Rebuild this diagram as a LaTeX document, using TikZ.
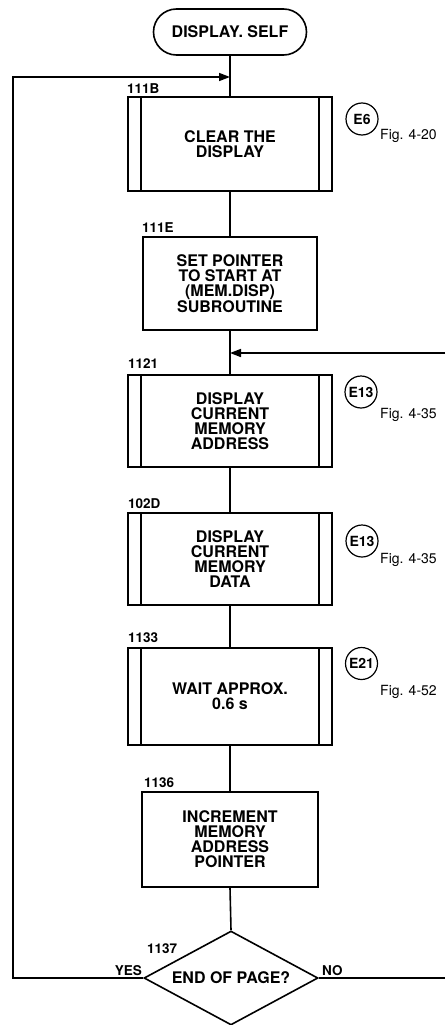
\documentclass[tikz,border=0pt]{standalone}
\usepackage{fontspec}
\setmainfont{TeX Gyre Heros}
\usetikzlibrary{shapes.geometric,arrows.meta}
\begin{document}
\begin{tikzpicture}[x=1pt,y=-1pt,
  line/.style={line width=1.6pt},
  procbox/.style={draw, line width=1.6pt, align=center, font=\fontsize{16}{15}\selectfont\bfseries, inner sep=0pt},
  addr/.style={font=\fontsize{13.5}{13}\selectfont\bfseries, anchor=base west, inner sep=0pt},
  refc/.style={draw, circle, line width=1.2pt, minimum size=32pt, inner sep=0pt, font=\fontsize{14}{14}\selectfont\bfseries},
  figref/.style={font=\fontsize{14}{14}\selectfont, anchor=base west, inner sep=0pt},
  tip/.style={-{Triangle[length=11pt,width=8pt]}}
]
\useasboundingbox (0,0) rectangle (445,1025);

% start terminal
\node[procbox, rounded corners=23pt, minimum width=153pt, minimum height=46pt] (start) at (230,32) {DISPLAY. SELF};

% boxes
\node[procbox, minimum width=204pt, minimum height=94pt] (b1) at (230,144) {CLEAR THE\\DISPLAY};
\node[procbox, minimum width=174pt, minimum height=93pt] (b2) at (230,283.5) {SET POINTER\\TO START AT\\(MEM.DISP)\\SUBROUTINE};
\node[procbox, minimum width=204pt, minimum height=92pt] (b3) at (230,421) {DISPLAY\\CURRENT\\MEMORY\\ADDRESS};
\node[procbox, minimum width=204pt, minimum height=92pt] (b4) at (230,559) {DISPLAY\\CURRENT\\MEMORY\\DATA};
\node[procbox, minimum width=204pt, minimum height=97pt] (b5) at (230,696.5) {WAIT APPROX.\\0.6 s};
\node[procbox, minimum width=176pt, minimum height=95pt] (b6) at (230,839.5) {INCREMENT\\MEMORY\\ADDRESS\\POINTER};
\node[procbox, diamond, aspect=1.84, minimum width=174pt, minimum height=94pt] (dec) at (231,978) {END OF PAGE?};

% predefined-process side lines
\foreach \b in {b1,b3,b4,b5} {
  \draw[line] ([xshift=14pt]\b.north west) -- ([xshift=14pt]\b.south west);
  \draw[line] ([xshift=-14pt]\b.north east) -- ([xshift=-14pt]\b.south east);
}

% address labels
\node[addr] (l1) at (127,93) {111B};
\node[addr] (l2) at (142,232) {111E};
\node[addr] (l3) at (128,368) {1121};
\node[addr] (l4) at (128,508) {102D};
\node[addr] (l5) at (128,642) {1133};
\node[addr] (l6) at (144,787) {1136};
\node[addr] (l7) at (147,953) {1137};

% references
\node[refc] (c1) at (362,119) {E6};
\node[figref] (f1) at (380,139) {Fig. 4-20};
\node[refc] (c3) at (361,392) {E13};
\node[figref] (f3) at (380,418) {Fig. 4-35};
\node[refc] (c4) at (362,541) {E13};
\node[figref] (f4) at (380,563) {Fig. 4-35};
\node[refc] (c5) at (361.5,663.5) {E21};
\node[figref] (f5) at (380,695) {Fig. 4-52};

% connectors
\coordinate (j1) at (230,77);
\coordinate (j2) at (230,353);
\coordinate (cl) at (13,0);
\coordinate (rb) at (445,978);
\coordinate (rt) at (445,353);

\draw[line] (start.south) -- (b1.north);
\draw[line] (b1.south) -- (b2.north);
\draw[line] (b2.south) -- (b3.north);
\draw[line] (b3.south) -- (b4.north);
\draw[line] (b4.south) -- (b5.north);
\draw[line] (b5.south) -- (b6.north);
\draw[line] (b6.south) -- (dec.north);
\draw[line, tip] (dec.west) -- (dec.west -| cl) |- (j1);
\draw[line] (dec.east) -- (rb);
\draw[line, tip] (rt) -- (j2);

\node[addr, anchor=base east] (yes) at (142,975) {YES};
\node[addr] (no) at (322,975) {NO};
\end{tikzpicture}
\end{document}
